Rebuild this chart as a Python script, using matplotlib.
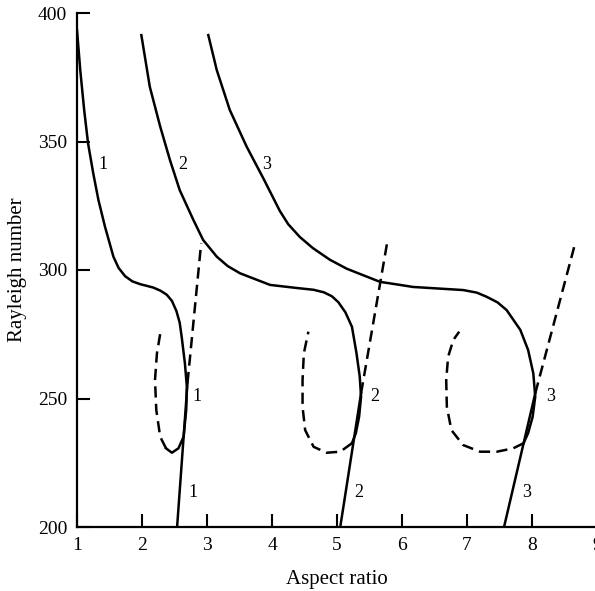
"""
Rayleigh number vs aspect ratio: neutral curves for modes 1, 2, 3,
with the secondary branches (solid where stable, dashed where not).
"""

import matplotlib
matplotlib.use("Agg")
import matplotlib.pyplot as plt

# ─── MODE 1 ─────────────────────────────────────────────────────────────────
m1_curve_x = [1.00, 1.05, 1.11, 1.17, 1.25, 1.33, 1.43, 1.56, 1.64, 1.74, 1.85, 1.97, 2.17, 2.28,
              2.38, 2.46, 2.53, 2.58, 2.61, 2.66, 2.69, 2.68, 2.64, 2.56, 2.46, 2.37]
m1_curve_y = [393.4, 377.8, 362.3, 349.3, 337.6, 327.2, 316.9, 305.2, 300.8, 297.6, 295.6, 294.5, 293.2, 292.0,
              290.4, 288.0, 284.0, 279.5, 274.1, 263.7, 254.6, 245.5, 235.1, 230.6, 228.9, 230.6]
m1_loop_x = [2.37, 2.28, 2.22, 2.20, 2.23, 2.29]
m1_loop_y = [230.6, 235.1, 245.5, 257.2, 267.6, 276.7]
m1_line_x = [2.54, 2.70]
m1_line_y = [200, 256]
m1_dash_x = [2.70, 2.91]
m1_dash_y = [256, 310.4]

# ─── MODE 2 ─────────────────────────────────────────────────────────────────
m2_curve_x = [1.99, 2.12, 2.28, 2.43, 2.58, 2.79, 2.94, 3.15, 3.32, 3.51, 3.97, 4.38, 4.64,
              4.80, 4.92, 5.02, 5.13, 5.23, 5.30, 5.35, 5.37, 5.34, 5.29, 5.23]
m2_curve_y = [391.4, 371.3, 355.8, 342.8, 331.1, 319.5, 311.7, 305.2, 301.5, 298.7, 294.2, 293.0, 292.3,
              291.3, 289.8, 287.5, 283.5, 277.9, 267.6, 258.5, 250.7, 242.9, 236.5, 232.6]
m2_loop_x = [5.23, 5.05, 4.84, 4.64, 4.51, 4.47, 4.47, 4.49, 4.56]
m2_loop_y = [232.6, 229.3, 228.9, 231.2, 237.7, 246.8, 257.2, 267.6, 276.0]
m2_line_x = [5.05, 5.37]
m2_line_y = [200, 252]
m2_dash_x = [5.37, 5.77]
m2_dash_y = [252, 310.4]

# ─── MODE 3 ─────────────────────────────────────────────────────────────────
m3_curve_x = [3.02, 3.15, 3.35, 3.61, 3.87, 4.00, 4.12, 4.25, 4.43, 4.63, 4.89, 5.15, 5.66,
              5.97, 6.17, 6.94, 7.15, 7.30, 7.47, 7.61, 7.82, 7.94, 8.02, 8.05, 8.01, 7.94, 7.87]
m3_curve_y = [391.4, 377.8, 362.3, 348.0, 335.5, 329.0, 323.0, 317.8, 312.8, 308.5, 304.0, 300.5, 295.4,
              294.2, 293.4, 292.2, 291.2, 289.6, 287.4, 284.4, 276.7, 268.9, 259.8, 250.7, 242.9, 236.5, 232.6]
m3_loop_x = [7.87, 7.71, 7.46, 7.20, 6.94, 6.76, 6.69, 6.68, 6.71, 6.79, 6.88]
m3_loop_y = [232.6, 230.6, 229.3, 229.3, 231.9, 237.7, 246.8, 257.2, 266.3, 272.8, 276.0]
m3_line_x = [7.57, 8.05]
m3_line_y = [200, 252]
m3_dash_x = [8.05, 8.66]
m3_dash_y = [252, 310]

# ─── CURVE LABELS ───────────────────────────────────────────────────────────
label_text = ["1", "2", "3", "1", "2", "3", "1", "2", "3"]
label_x = [1.40, 2.63, 3.92, 2.85, 5.58, 8.28, 2.78, 5.34, 7.92]
label_y = [341, 341, 341, 250.6, 250.6, 250.6, 213.6, 213.6, 213.6]

x_ticks = [1, 2, 3, 4, 5, 6, 7, 8, 9]
y_ticks = [200, 250, 300, 350, 400]


def main():
    plt.rcParams["font.family"] = ["Liberation Serif", "DejaVu Serif"]
    fig = plt.figure(figsize=(5.95, 5.91), dpi=100)
    ax = fig.add_axes([77 / 595, 64 / 591, 520 / 595, 514 / 591])

    lw = 1.8
    dash = (0, (4.5, 2.5))
    modes = [
        (m1_curve_x, m1_curve_y, m1_loop_x, m1_loop_y, m1_line_x, m1_line_y, m1_dash_x, m1_dash_y),
        (m2_curve_x, m2_curve_y, m2_loop_x, m2_loop_y, m2_line_x, m2_line_y, m2_dash_x, m2_dash_y),
        (m3_curve_x, m3_curve_y, m3_loop_x, m3_loop_y, m3_line_x, m3_line_y, m3_dash_x, m3_dash_y),
    ]
    for cx, cy, lx, ly, sx, sy, dx, dy in modes:
        ax.plot(cx, cy, color="black", linewidth=lw, solid_joinstyle="round")
        ax.plot(lx, ly, color="black", linewidth=lw, linestyle=dash)
        ax.plot(sx, sy, color="black", linewidth=lw)
        ax.plot(dx, dy, color="black", linewidth=lw, linestyle=dash)

    for t, x, y in zip(label_text, label_x, label_y):
        ax.text(x, y, t, fontsize=13, ha="center", va="center")

    ax.set_xlim(1, 9)
    ax.set_ylim(200, 400)
    ax.set_xticks(x_ticks)
    ax.set_yticks(y_ticks)
    ax.tick_params(direction="in", length=9.5, width=1.5, labelsize=14, pad=7)
    for side in ["top", "right"]:
        ax.spines[side].set_visible(False)
    for side in ["left", "bottom"]:
        ax.spines[side].set_linewidth(1.6)

    ax.set_xlabel("Aspect ratio", fontsize=15, labelpad=12)
    ax.set_ylabel("Rayleigh number", fontsize=15, labelpad=8)

    fig.savefig("out.png", dpi=100)


if __name__ == "__main__":
    main()
